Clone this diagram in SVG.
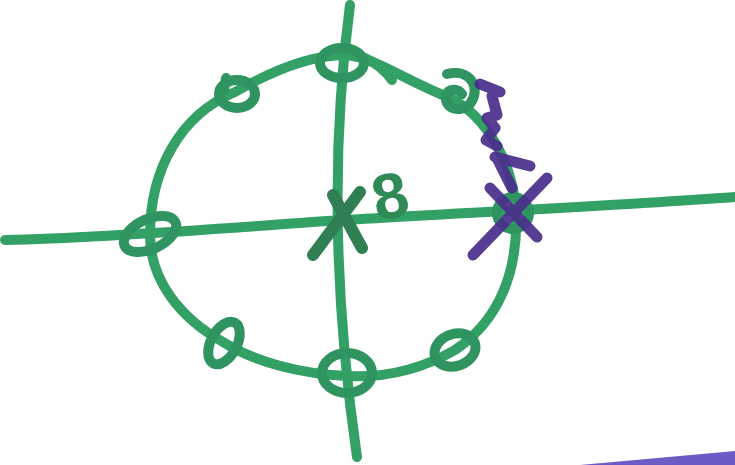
<svg xmlns="http://www.w3.org/2000/svg" width="735" height="465" viewBox="0 0 735 465">
  <style>
    .ink { fill: none; stroke: #33a066; stroke-width: 10; stroke-linecap: round; stroke-linejoin: round; }
    .zero { fill: none; stroke: #2f9460; stroke-width: 10; stroke-linecap: round; }
    .pole { fill: none; stroke: #2f7f52; stroke-width: 12; stroke-linecap: round; }
    .purple { fill: none; stroke: #4a2c8c; stroke-width: 11; stroke-linecap: round; stroke-linejoin: round; opacity: 0.92; }
    .label { font-family: "Liberation Sans", Arial, sans-serif; font-weight: bold; fill: #2f8a55; }
  </style>
  <rect width="735" height="465" fill="#ffffff"/>
  <g id="connectors">
    <path class="ink" d="M 5 240 C 100 238, 200 230, 300 223 S 600 207, 735 197"/>
    <path class="ink" d="M 350 5 Q 322 215 357 457"/>
    <path class="ink" d="M 345 55 C 375 57, 400 78, 450 98 C 490 118, 515 170, 516 215 C 518 270, 500 320, 455 350 C 420 370, 385 378, 348 376 C 300 374, 255 362, 223 342 C 180 318, 150 280, 150 235 C 150 170, 180 115, 235 92 C 270 72, 310 55, 345 55 Z"/>
    <path class="ink" d="M 365 58 Q 382 66 392 80"/>
  </g>
  <g id="zero-top"><ellipse class="zero" cx="342" cy="63" rx="22" ry="15"/></g>
  <g id="zero-top-left"><ellipse class="zero" cx="237" cy="94" rx="18" ry="14"/><path class="zero" d="M 224 90 L 226 78"/></g>
  <g id="zero-top-right"><path class="zero" d="M 447 74 C 470 68, 482 88, 470 104 C 460 114, 444 108, 446 96 C 448 88, 458 88, 462 94"/></g>
  <g id="zero-left"><ellipse class="zero" cx="150" cy="234" rx="28" ry="15" transform="rotate(-25 150 234)"/></g>
  <g id="zero-bottom-left"><ellipse class="zero" cx="224" cy="343" rx="23" ry="13" transform="rotate(-62 224 343)"/></g>
  <g id="zero-bottom"><ellipse class="zero" cx="347" cy="373" rx="25" ry="20"/></g>
  <g id="zero-bottom-right"><ellipse class="zero" cx="455" cy="350" rx="21" ry="16" transform="rotate(-20 455 350)"/></g>
  <g id="zero-right"><circle class="zero" cx="513" cy="213" r="16"/></g>
  <g id="pole-origin">
    <path class="pole" d="M 333 195 L 362 248 M 360 192 L 313 255"/>
    <text class="label" x="372" y="218" font-size="64" transform="rotate(-12 390 195)">8</text>
  </g>
  <g id="pole-right">
    <path class="purple" d="M 490 188 L 537 237 M 547 178 L 473 255"/>
    <path class="purple" d="M 480 84 L 500 92 M 492 96 L 497 115 L 487 118 L 495 128 L 486 140 L 497 146 M 495 157 L 530 166 M 498 160 L 512 188"/>
  </g>
  <polygon points="580,465 735,451 735,465" fill="#6b5cc6"/>
</svg>
